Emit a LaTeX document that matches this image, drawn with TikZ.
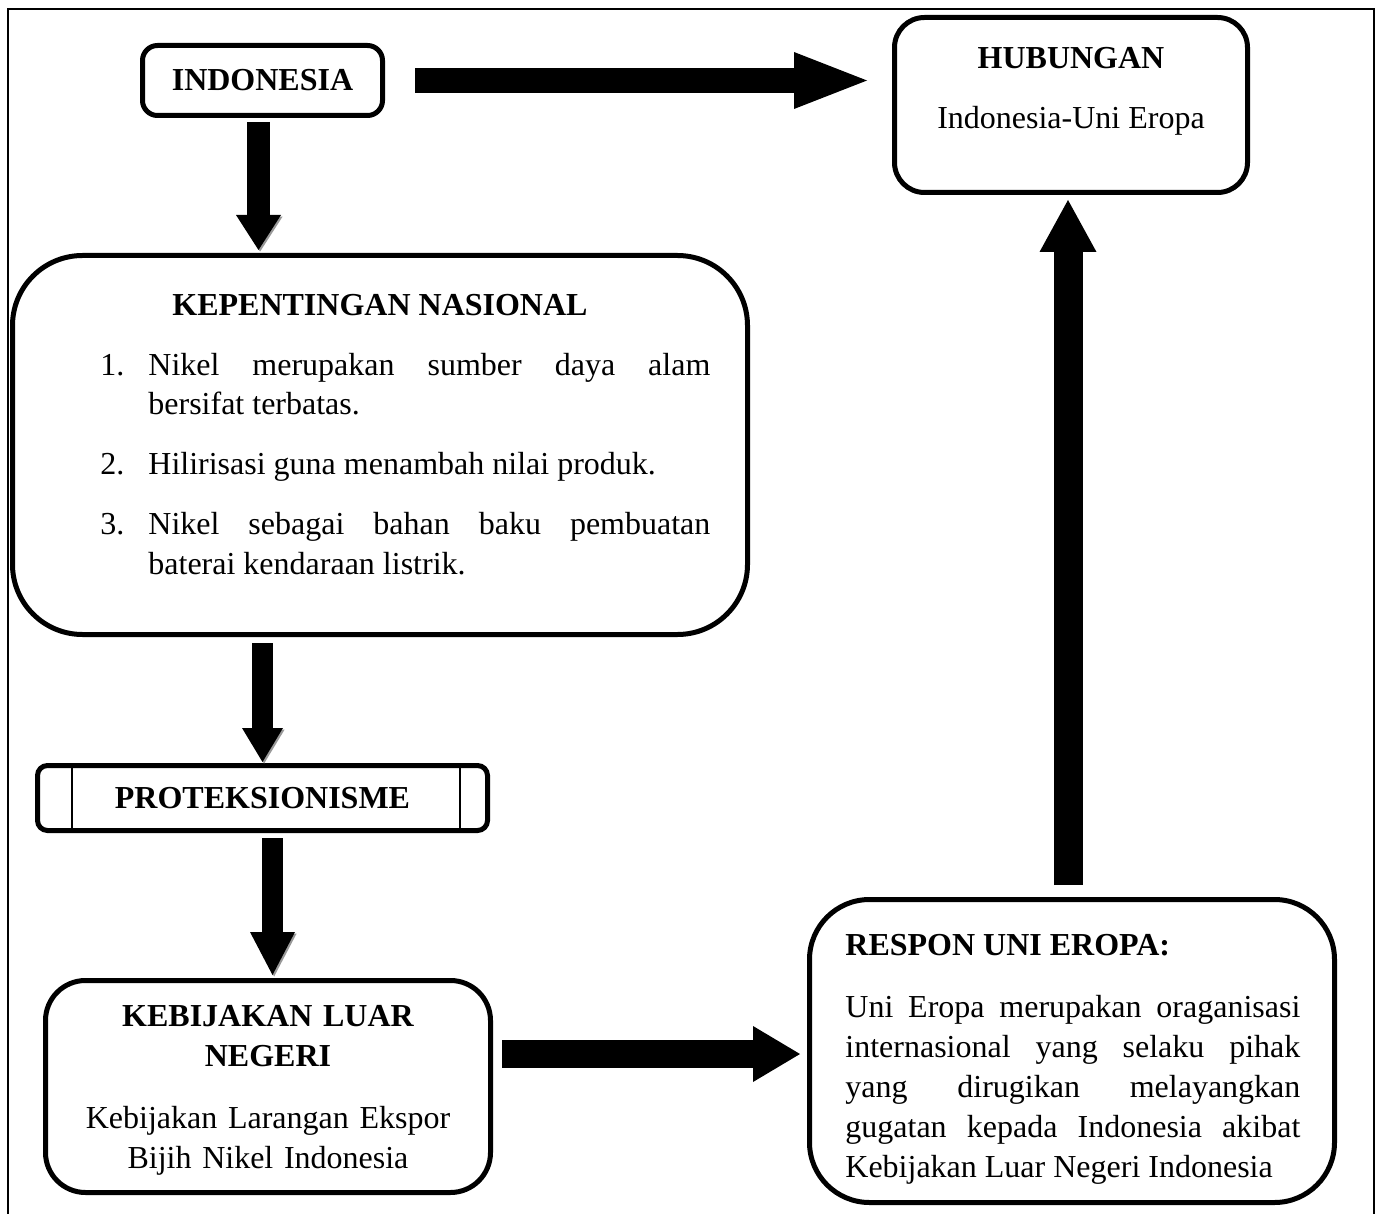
\documentclass[tikz,border=0pt]{standalone}
\usepackage{fontspec}
\setmainfont{Liberation Serif}
\usetikzlibrary{arrows.meta}

% butir daftar dengan indentasi gantung
\newcommand{\butir}[2]{\hangindent=24pt\hangafter=1\noindent\makebox[24pt][l]{#1}#2\par}

\tikzset{
	kotak/.style={draw, rectangle, line width=2.5pt, align=center, font=\fontsize{16}{20}\selectfont},
	teks/.style={inner sep=0pt, font=\fontsize{16}{20}\selectfont},
	panah/.style n args={3}{line width=#1, -{Triangle[length=#2, width=#3, line width=0pt]}},
	bayang/.style={preaction={draw=gray!80, transform canvas={shift={(0.8pt,-0.8pt)}}}}
}

\begin{document}
\begin{tikzpicture}[x=0.5pt, y=-0.5pt]
		\useasboundingbox (0,0) rectangle (1382,1214);
		% ramka zewnętrzna
		\draw[line width=1pt] (7.5,1214) -- (7.5,9) -- (1374,9) -- (1374,1214);
		
		\node[kotak, rounded corners=7.5pt, minimum width=120pt, minimum height=35pt] (indo) at (262.5,80.5) {\bf INDONESIA};
		\node[kotak, rounded corners=15pt, minimum width=176.5pt, minimum height=87.5pt] (hub) at (1071,105) {};
		\node[teks, anchor=base] (hubjudul) at (1071,69) {\bf HUBUNGAN};
		\node[teks, anchor=base] (hubisi) at (1071,129) {Indonesia-Uni Eropa};
		
		\node[kotak, rounded corners=35pt, minimum width=367.5pt, minimum height=189.5pt] (kep) at (380,445) {};
		\node[teks, anchor=base] (kepjudul) at (380,315) {\bf KEPENTINGAN NASIONAL};
		\node[teks, anchor=base west, text width=305pt, align=justify] (keplist) at (100,375) {%
			\butir{1.}{Nikel merupakan sumber daya alam\linebreak bersifat terbatas.}\vspace{10pt}%
			\butir{2.}{Hilirisasi guna menambah nilai produk.}\vspace{10pt}%
			\butir{3.}{Nikel sebagai bahan baku pembuatan\linebreak baterai kendaraan listrik.}};
		
		\node[kotak, rounded corners=5pt, minimum width=225pt, minimum height=32.5pt] (prot) at (262.5,798) {\bf PROTEKSIONISME};
		\draw[line width=1pt] ([xshift=18.5pt]prot.north west) -- ([xshift=18.5pt]prot.south west);
		\draw[line width=1pt] ([xshift=-15pt]prot.north east) -- ([xshift=-15pt]prot.south east);
		
		\node[kotak, rounded corners=20pt, minimum width=222.5pt, minimum height=106pt] (keb) at (268,1086.5) {};
		\node[teks, anchor=base, text width=200pt, align=center] (kebjudul) at (268,1026) {\bf KEBIJAKAN LUAR\\ NEGERI};
		\node[teks, anchor=base, text width=200pt, align=center] (kebisi) at (268,1128) {Kebijakan Larangan Ekspor\\ Bijih Nikel Indonesia};
		
		\node[kotak, rounded corners=30pt, minimum width=262.5pt, minimum height=151.5pt] (resp) at (1072,1051) {};
		\node[teks, anchor=base west] (respjudul) at (845,955) {\bf RESPON UNI EROPA:};
		\node[teks, anchor=base west, text width=227.5pt, align=justify] (respisi) at (845,1017) {Uni Eropa merupakan oraganisasi\linebreak internasional yang selaku pihak\linebreak yang dirugikan melayangkan\linebreak gugatan kepada Indonesia akibat\linebreak Kebijakan Luar Negeri Indonesia};
		
		% strzałki blokowe
		\draw[panah={12.5pt}{36.5pt}{28.5pt}, shorten <=15pt, shorten >=12.5pt] (indo.east) -- (indo.east -| hub.west);
		\draw[panah={11.5pt}{17.5pt}{22.5pt}, bayang, shorten <=2pt, shorten >=1.5pt] ([xshift=-2pt]indo.south) -- ([xshift=-2pt]indo.south |- kep.north);
		\draw[panah={10.5pt}{17pt}{20.5pt}, bayang, shorten <=3pt, shorten >=0.5pt] (kep.south -| prot.north) -- (prot.north);
		\draw[panah={10.5pt}{21.5pt}{22.5pt}, bayang, shorten <=2.5pt, shorten >=1.5pt] ([xshift=5pt]prot.south) -- ([xshift=5pt]prot.south |- keb.north);
		\draw[panah={14pt}{23.5pt}{28pt}, shorten <=4.5pt, shorten >=3.5pt] ([yshift=-1.5pt]keb.east |- resp.west) -- ([yshift=-1.5pt]resp.west);
		\draw[panah={14.5pt}{26pt}{28.5pt}, shorten <=6pt, shorten >=2.5pt] ([xshift=-2pt]resp.north) -- ([xshift=-2pt]resp.north |- hub.south);
	\end{tikzpicture}
\end{document}
